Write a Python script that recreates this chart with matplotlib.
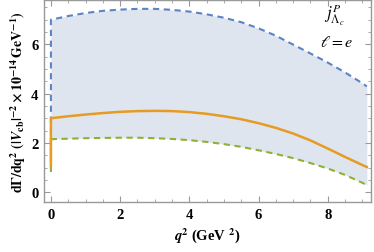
import matplotlib
matplotlib.use("Agg")
import matplotlib.pyplot as plt
from matplotlib.ticker import MultipleLocator

plt.rcParams['mathtext.fontset'] = 'stix'
plt.rcParams['font.family'] = 'Liberation Serif'

q2 = [0.0, 0.0, 0.5, 1.0, 1.5, 2.0, 2.5, 3.0, 3.5, 4.0, 4.5, 5.0, 5.5, 6.0, 6.5, 7.0, 7.5, 8.0, 8.5, 9.0, 9.13]
upper = [1.5, 7.0, 7.15, 7.27, 7.36, 7.41, 7.44, 7.44, 7.40, 7.33, 7.22, 7.08, 6.9, 6.65, 6.35, 5.99, 5.63, 5.26, 4.86, 4.42, 4.29]
central = [1.08, 3.0, 3.08, 3.15, 3.21, 3.26, 3.29, 3.30, 3.29, 3.25, 3.18, 3.08, 2.96, 2.8, 2.61, 2.38, 2.1, 1.77, 1.43, 1.1, 1.02]
lower = [0.82, 2.15, 2.17, 2.19, 2.2, 2.21, 2.21, 2.19, 2.16, 2.11, 2.04, 1.95, 1.84, 1.7, 1.55, 1.38, 1.18, 0.96, 0.7, 0.38, 0.28]

fig = plt.figure(figsize=(3.74, 2.53), dpi=100)
ax = fig.add_axes([44/374, 1-203/253, (371-44)/374, (203-1)/253])

ax.fill_between(q2, lower, upper, color='#dfe5ef', lw=0, zorder=1)
ax.plot(q2, upper, color='#5b84c4', lw=1.5, ls=(0, (3, 2.2)), zorder=3)
ax.plot(q2, lower, color='#8fb032', lw=1.5, ls=(0, (3, 2.2)), zorder=3)
ax.plot(q2, central, color='#e69b22', lw=1.8, zorder=4)

ax.set_xlim(-0.2, 9.25)
ax.set_ylim(-0.4, 7.8)
ax.xaxis.set_major_locator(MultipleLocator(2))
ax.xaxis.set_minor_locator(MultipleLocator(0.5))
ax.yaxis.set_major_locator(MultipleLocator(2))
ax.yaxis.set_minor_locator(MultipleLocator(0.5))
ax.tick_params(which='both', direction='in', top=True, right=True, color='#999999')
ax.tick_params(which='major', length=4, width=0.8, labelsize=10.5, pad=4)
ax.tick_params(which='minor', length=2, width=0.6)
for lab in ax.get_xticklabels() + ax.get_yticklabels():
    lab.set_fontweight('bold')
for s in ax.spines.values():
    s.set_color('#999999')
    s.set_linewidth(1.0)

ax.set_xlabel(r'$\boldsymbol{q}^{\mathbf{2}}$ (GeV $^{\mathbf{2}}$)', fontsize=10.5, fontweight='bold', labelpad=3)
ax.set_ylabel(r'$\mathbf{d\Gamma/dq^2\ (|}\boldsymbol{V}_{\mathbf{cb}}\mathbf{|^{-2}\times 10^{-14}\,GeV^{-1})}$',
              fontsize=10, labelpad=2)
ax.text(0.855, 0.93, r'$j^{P}_{\Lambda_c}$', transform=ax.transAxes, fontsize=12, ha='left', va='center')
ax.text(0.845, 0.79, r'$\ell = e$', transform=ax.transAxes, fontsize=11.5, ha='left', va='center')

fig.savefig('out.png', dpi=100)
